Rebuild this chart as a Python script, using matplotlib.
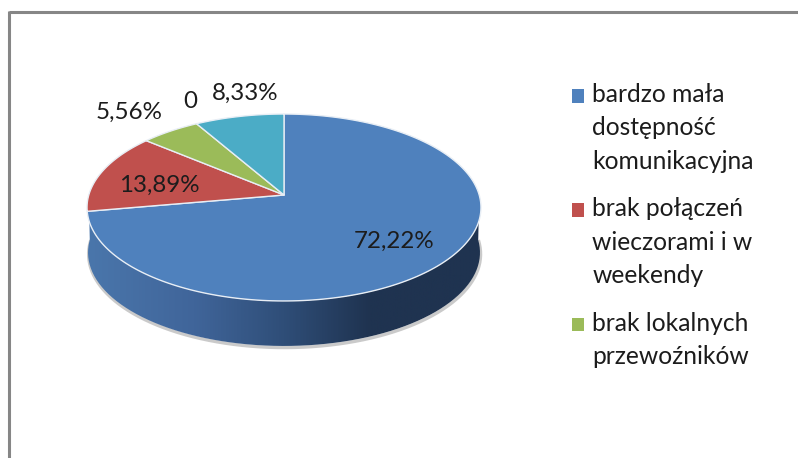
import numpy as np
import matplotlib
matplotlib.use("Agg")
import matplotlib.pyplot as plt
from matplotlib.patches import Rectangle, PathPatch
from matplotlib.path import Path
from matplotlib.colors import LinearSegmentedColormap
from matplotlib.legend_handler import HandlerPatch

# ---- data ----
categories = ["bardzo mała\ndostępność\nkomunikacyjna",
              "brak połączeń\nwieczorami i w\nweekendy",
              "brak lokalnych\nprzewoźników",
              "",
              ""]
values = [72.22, 13.89, 5.56, 0, 8.33]
value_labels = ["72,22%", "13,89%", "5,56%", "0", "8,33%"]
colors = ["#4F81BD", "#C0504D", "#9BBB59", "#8064A2", "#4BACC6"]
legend_count = 3

# ---- layout (pixel-based axes) ----
W, H = 798, 458
CX, CY = 284, 195
RX, RY, K = 195.2, 91.8, 0.1337
DEPTH = 45
label_xy = [(394, 241.5), (159, 185.5), (129, 112), (190, 101), (245, 93)]
FS = 17.4
LEG_FS = 17.7

plt.rcParams["font.family"] = ["Lato", "DejaVu Sans"]
fig = plt.figure(figsize=(W / 100, H / 100), dpi=100, facecolor="white")
ax = fig.add_axes([0, 0, 1, 1])
ax.set_xlim(0, W)
ax.set_ylim(H, 0)
ax.axis("off")


def rim(theta_deg, dy=0.0, sx=1.0):
    t = np.radians(theta_deg)
    d = 1 + K * np.sin(t)
    return CX + sx * RX * np.cos(t) / d, CY - RY * np.sin(t) / d + dy


# chart frame: top and left edges only are in view
ax.plot([9, W], [12, 12], color="#868686", lw=2.2, solid_capstyle="butt", zorder=1)
ax.plot([9, 9], [11, H], color="#868686", lw=2.2, solid_capstyle="butt", zorder=1)

# extruded side, with horizontal gradient
t_all = np.linspace(180, 360, 240)
xu, yu = rim(t_all)
xl, yl = rim(t_all, dy=DEPTH, sx=0.995)
ax.plot(xl + 0.6, yl + 1.6, color="#bdbdbd", lw=2.4, alpha=0.8, zorder=1.5)
side = np.column_stack([np.r_[xu, xl[::-1]], np.r_[yu, yl[::-1]]])
side_patch = PathPatch(Path(np.vstack([side, side[0]])), fc="none", ec="none", zorder=2)
ax.add_patch(side_patch)
cmap = LinearSegmentedColormap.from_list(
    "side", [(0.0, "#4A76AB"), (0.27, "#40659A"), (0.50, "#2F4E78"),
             (0.72, "#1F3350"), (1.0, "#1F3350")])
im = ax.imshow(np.linspace(0, 1, 400)[None, :], cmap=cmap, aspect="auto",
               extent=(88, 480, 350, 200), zorder=2)
im.set_clip_path(side_patch)
ax.set_xlim(0, W)
ax.set_ylim(H, 0)

# top face: slices run clockwise from twelve o'clock
fractions = np.array(values) / sum(values)
edges = 90 - 360 * np.r_[0, np.cumsum(fractions)]
for i, c in enumerate(colors):
    if fractions[i] == 0:
        continue
    th = np.linspace(edges[i], edges[i + 1], 200)
    x, y = rim(th)
    ax.fill(np.r_[CX, x], np.r_[CY, y], fc=c, ec="#E8EEF5", lw=1.0,
            joinstyle="round", zorder=3)

# data labels
for txt, (x, y) in zip(value_labels, label_xy):
    ax.text(x, y, txt, ha="center", va="center", fontsize=FS, color="#1c1c1c", zorder=5)


class TopAlignedPatch(HandlerPatch):
    def __init__(self, shift):
        super().__init__()
        self.shift = shift

    def create_artists(self, legend, orig_handle, xdescent, ydescent, width, height,
                       fontsize, trans):
        r = Rectangle((-xdescent, -ydescent + self.shift), width, height,
                      fc=orig_handle.get_facecolor(), ec="none", transform=trans)
        return [r]


leg_h = [Rectangle((0, 0), 1, 1, fc=c) for c in colors[:legend_count]]
hmap = {leg_h[0]: TopAlignedPatch(23.8), leg_h[1]: TopAlignedPatch(23.8), leg_h[2]: TopAlignedPatch(11.9)}
leg = ax.legend(leg_h, categories[:legend_count], handler_map=hmap,
                loc="upper left", bbox_to_anchor=(572 / W, 1 - 83 / H),
                frameon=False, fontsize=LEG_FS, handlelength=0.49, handleheight=0.49,
                handletextpad=0.33, labelspacing=1.0, borderpad=0, borderaxespad=0)
leg.set_zorder(6)
for t in leg.get_texts():
    t.set_linespacing(1.55)
    t.set_color("#1c1c1c")

fig.savefig("out.png", dpi=100, facecolor="white")
